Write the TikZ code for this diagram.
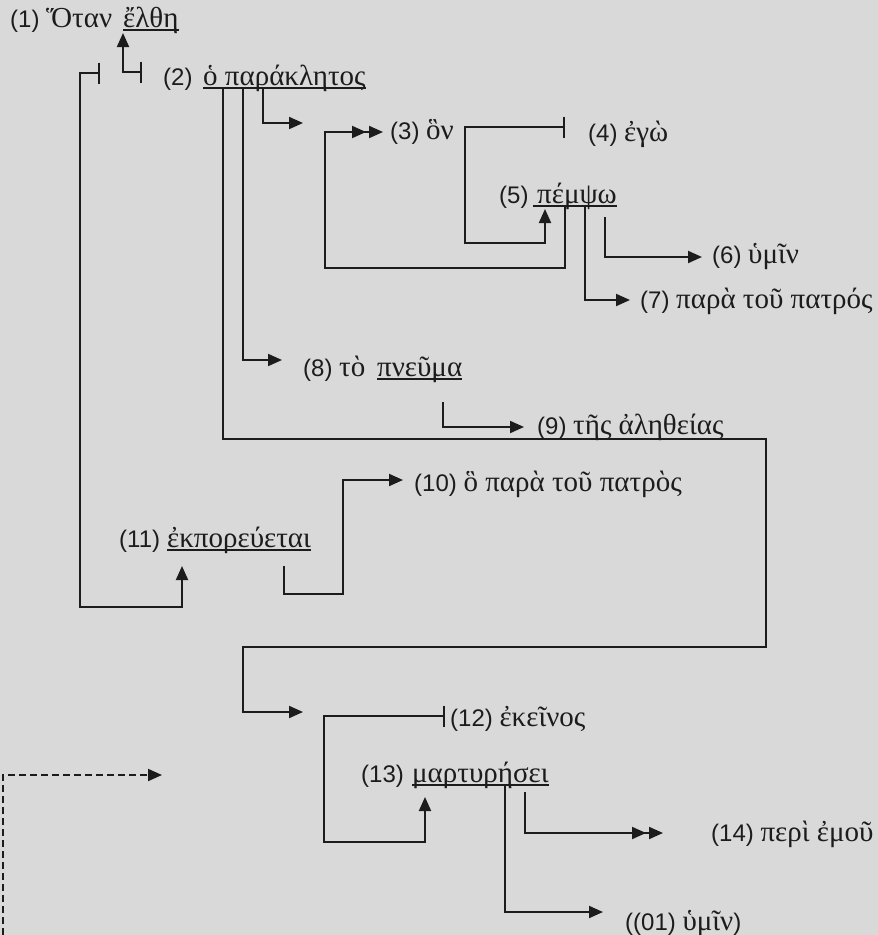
\documentclass[tikz,border=0pt]{standalone}
\usepackage{fontspec}
\setmainfont{Liberation Sans}
\newfontfamily\grk{Liberation Serif}
\usetikzlibrary{arrows.meta}
\definecolor{bgc}{RGB}{217,217,217}
\definecolor{ink}{RGB}{28,28,28}
\newcommand\grtext[1]{{\grk\fontsize{29}{34}\selectfont #1}}
\begin{document}
\begin{tikzpicture}[x=1pt,y=-1pt,
  num/.style={anchor=base west,inner sep=0pt,text=ink,font=\fontsize{24}{28}\selectfont},
  wd/.style={anchor=base west,inner sep=0pt,text=ink,font=\fontsize{29}{34}\selectfont\grk},
  conn/.style={draw=ink,line width=2pt},
  arr/.style={conn,-{Triangle[length=14pt,width=12pt]}},
  darr/.style={conn,-{Triangle[length=14pt,width=12pt,sep=3pt]Triangle[length=14pt,width=12pt]}},
  bararr/.style={conn,{Bar[width=21pt]}-{Triangle[length=14pt,width=12pt]}},
  ul/.style={draw=ink,line width=1.6pt}]
\fill[bgc] (0,0) rectangle (878,935);
\useasboundingbox (0,0) rectangle (878,935);
% labels
\node[num] (l1) at (10,27) {(1) \grtext{Ὅταν}};
\node[wd] (w1) at (123,27) {ἔλθη};
\node[num] (l2) at (163,85) {(2)};
\node[wd] (w2) at (203,85) {ὁ παράκλητος};
\node[num] (l3) at (390,139) {(3) \grtext{ὃν}};
\node[num] (l4) at (588,141) {(4) \grtext{ἐγὼ}};
\node[num] (l5) at (499,203) {(5)};
\node[wd] (w5) at (533,203) {\hspace{4pt}πέμψω};
\node[num] (l6) at (712,263) {(6) \grtext{ὑμῖν}};
\node[num] (l7) at (640,308) {(7) \grtext{παρὰ τοῦ πατρός}};
\node[num] (l8) at (303,376) {(8) \grtext{τὸ}};
\node[wd] (w8) at (377,376) {πνεῦμα};
\node[num] (l9) at (537,434) {(9) \grtext{τῆς ἀληθείας}};
\node[num] (l10) at (414,491) {(10) \grtext{ὃ παρὰ τοῦ πατρὸς}};
\node[num] (l11) at (119,547) {(11)};
\node[wd] (w11) at (167,547) {ἐκπορεύεται};
\node[num] (l12) at (450,726) {(12) \grtext{ἐκεῖνος}};
\node[num] (l13) at (361,782) {(13)};
\node[wd] (w13) at (412,782) {μαρτυρήσει};
\node[num] (l14) at (711,841) {(14) \grtext{περὶ ἐμοῦ}};
\node[num] (l01) at (625,930) {((01) \grtext{ὑμῖν})};
% underlines
\foreach \w in {w1,w2,w5,w8,w11,w13}
  \draw[ul] ([yshift=-3pt]\w.base west) -- ([yshift=-3pt]\w.base east);
% attachment coordinates
\coordinate (b1) at (100,73);
\coordinate (b2) at (142,72);
\coordinate (a1) at (123,33);
\coordinate (u2a) at (223,88);
\coordinate (u2b) at (243,88);
\coordinate (u2c) at (263,88);
\coordinate (e11) at (182,566);
\coordinate (e12) at (303,712);
\coordinate (e8) at (282,360);
\coordinate (e2r) at (303,123);
\coordinate (u5a) at (565,206);
\coordinate (u5b) at (585,206);
\coordinate (s5c) at (605,217);
\coordinate (e3) at (383,132);
\coordinate (b3) at (565,127);
\coordinate (e5) at (545,209);
\coordinate (e7) at (630,300);
\coordinate (e6) at (702,257);
\coordinate (s8) at (443,402);
\coordinate (e9) at (524,427);
\coordinate (s11) at (284,566);
\coordinate (e10) at (403,480);
\coordinate (b12) at (445,716);
\coordinate (e13) at (425,797);
\coordinate (u13a) at (505,785);
\coordinate (s13b) at (525,792);
\coordinate (e01) at (603,912);
\coordinate (e14) at (663,833);
\coordinate (dstart) at (3,935);
\coordinate (dend) at (162,775);
% connectors
\draw[bararr] (b1) -- (80,73) -- (80,607) -- (182,607) -- (e11);
\draw[bararr] (b2) -- (123,72) -- (a1);
\draw[arr] (u2a) -- (223,439) -- (766,439) -- (766,647) -- (243,647) -- (243,712) -- (e12);
\draw[arr] (u2b) -- (243,360) -- (e8);
\draw[arr] (u2c) -- (263,123) -- (e2r);
\draw[darr] (u5a) -- (565,268) -- (325,268) -- (325,132) -- (e3);
\draw[bararr] (b3) -- (465,127) -- (465,243) -- (545,243) -- (e5);
\draw[arr] (u5b) -- (585,300) -- (e7);
\draw[arr] (s5c) -- (605,257) -- (e6);
\draw[arr] (s8) -- (443,427) -- (e9);
\draw[arr] (s11) -- (284,594) -- (343,594) -- (343,480) -- (e10);
\draw[bararr] (b12) -- (324,716) -- (324,842) -- (425,842) -- (e13);
\draw[arr] (u13a) -- (505,912) -- (e01);
\draw[darr] (s13b) -- (525,833) -- (e14);
\draw[conn,dash pattern=on 7pt off 4pt,-{Triangle[length=14pt,width=12pt]}] (dstart) -- (3,775) -- (dend);
\end{tikzpicture}
\end{document}
